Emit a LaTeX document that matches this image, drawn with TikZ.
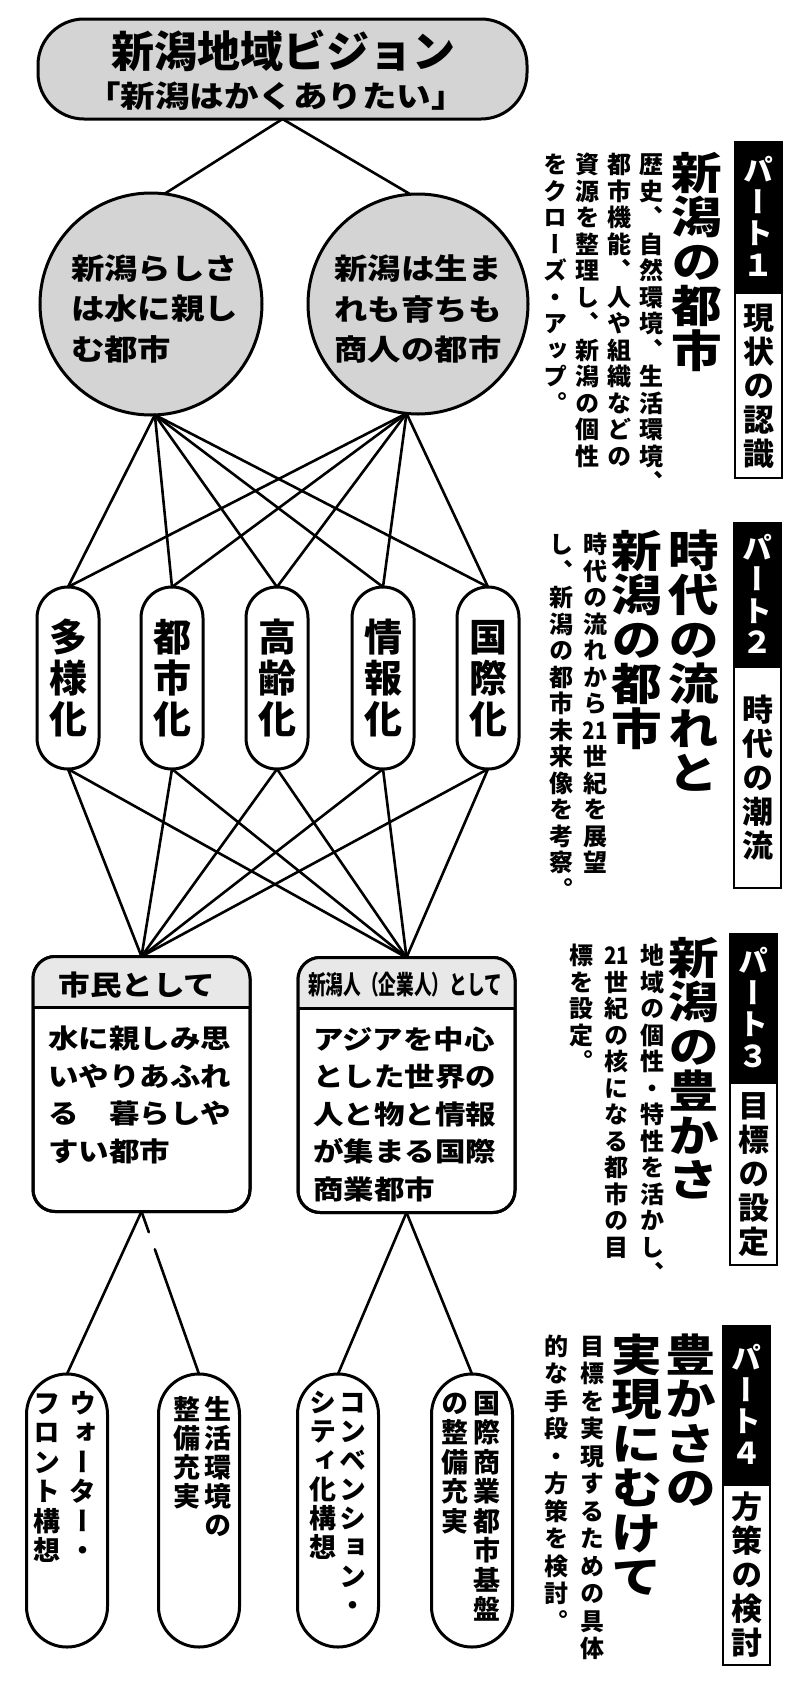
\documentclass[tikz,border=0pt]{standalone}
\usepackage{fontspec}
\usepackage{graphicx}
\usetikzlibrary{calc}
\setmainfont{Noto Sans CJK JP}
\newfontfamily\jpw{Noto Sans CJK JP}[FakeStretch=1.15]
\newfontfamily\tatefont{Noto Sans CJK JP}[RawFeature=+vert]
\newfontfamily\tatewfont{Noto Sans CJK JP}[RawFeature=+vert,FakeStretch=1.15]
\makeatletter
\newdimen\tpitch \newdimen\tcw \newdimen\tfs
\newbox\tpbox
\def\tate@end{\relax}
\def\tate@endm{\tate@end}
\def\tcol#1{\vtop{\offinterlineskip\tcol@loop#1\tate@end}}
\def\tcol@loop#1{\def\tcol@tmp{#1}\ifx\tcol@tmp\tate@endm\else
  \hbox to\tcw{\hss\vbox to\tpitch{\vss\hbox{\vrule height .88\tfs depth .12\tfs width 0pt\smash{#1}}\vss}\hss}%
  \expandafter\tcol@loop\fi}
\def\tpara#1{\setbox\tpbox\hbox{}\tpara@loop#1\tate@end\box\tpbox}
\def\tpara@loop#1{\def\tpara@tmp{#1}\ifx\tpara@tmp\tate@endm\else
  \setbox\tpbox\hbox{\tcol{#1}\unhbox\tpbox}%
  \expandafter\tpara@loop\fi}
\makeatother
\newcommand\vtext[4]{{\tfs=#1pt\fontsize{#1}{#1}\selectfont\tpitch=#2pt\tcw=#3pt\tpara{#4}}}
\begin{document}
\begin{tikzpicture}[x=1pt,y=-1pt,
  conn/.style={line width=2.6pt,line cap=round},
  shp/.style={draw,line width=3pt,inner sep=0pt,outer sep=0pt},
  gfill/.style={fill=black!17},
  ovA/.style={shp,fill=white,minimum width=62pt,minimum height=182pt,rounded corners=30.9pt,font=\tatefont\bfseries},
  ovB/.style={shp,fill=white,minimum width=81pt,minimum height=273pt,rounded corners=40.4pt},
  bx/.style={shp,fill=white,minimum width=217pt,minimum height=255pt,rounded corners=22pt},
  tg/.style={draw,line width=2.4pt,inner sep=0pt,outer sep=0pt,minimum width=47pt},
  tgb/.style={tg,fill=black,text=white,font=\tatefont\bfseries},
  tgw/.style={tg,fill=white,font=\tatefont\bfseries},
  vt/.style={inner sep=0pt,anchor=north,font=\tatefont\bfseries},
  vth/.style={inner sep=0pt,anchor=north,font=\tatewfont\bfseries},
]
\useasboundingbox (0,0) rectangle (804,1700);
% top
\node[shp,gfill,minimum width=489pt,minimum height=100pt,rounded corners=46pt] (top) at (282.5,69) {};
\node[inner sep=0pt,font=\bfseries\fontsize{43}{43}\selectfont] (topa) at (283,51) {新潟地域ビジョン};
\node[inner sep=0pt,font=\jpw\bfseries\fontsize{30}{30}\selectfont] (topb) at (276,96) {「新潟はかくありたい」};
% circles
\node[shp,gfill,circle,minimum size=222pt] (cL) at (151,304) {};
\node[shp,gfill,circle,minimum size=220pt] (cR) at (418,304) {};
\node[align=left,inner sep=0pt,font=\jpw\bfseries\fontsize{29}{40.5}\selectfont] (tL) at (154.5,309) {新潟らしさ\\は水に親し\\む都市};
\node[align=left,inner sep=0pt,font=\jpw\bfseries\fontsize{29}{40.5}\selectfont] (tR) at (418,309) {新潟は生ま\\れも育ちも\\商人の都市};
% five trends
\node[ovA] (o1) at (68,678) {\vtext{38}{41}{44}{{多様化}}};
\node[ovA] (o2) at (172,678) {\vtext{38}{41}{44}{{都市化}}};
\node[ovA] (o3) at (277,678) {\vtext{38}{41}{44}{{高齢化}}};
\node[ovA] (o4) at (383,678) {\vtext{38}{41}{44}{{情報化}}};
\node[ovA] (o5) at (488,678) {\vtext{38}{41}{44}{{国際化}}};
% goal boxes
\node[bx] (bL) at (141.5,1084) {};
\node[bx] (bR) at (406.5,1085) {};
\begin{scope}
\clip[rounded corners=22pt] (bL.south west) rectangle (bL.north east);
\fill[black!9] (bL.north west) rectangle ($(bL.north east)+(0,51)$);
\end{scope}
\begin{scope}
\clip[rounded corners=22pt] (bR.south west) rectangle (bR.north east);
\fill[black!9] (bR.north west) rectangle ($(bR.north east)+(0,51)$);
\end{scope}
\draw[line width=3pt,rounded corners=22pt] (bL.south west) rectangle (bL.north east);
\draw[line width=3pt,rounded corners=22pt] (bR.south west) rectangle (bR.north east);
\draw[line width=2.4pt] ($(bL.north west)+(0,51)$) -- ($(bL.north east)+(0,51)$);
\draw[line width=2.4pt] ($(bR.north west)+(0,51)$) -- ($(bR.north east)+(0,51)$);
\node[inner sep=0pt,font=\jpw\bfseries\fontsize{27.5}{27.5}\selectfont] (hL) at (137,985) {市民として};
\node[inner sep=0pt,font=\bfseries\fontsize{26}{26}\selectfont] (hR) at (405,985) {\scalebox{0.68}[1]{新潟人（企業人）として}};
\node[align=left,anchor=west,inner sep=0pt,font=\jpw\bfseries\fontsize{26.5}{37.5}\selectfont] (tbL) at (48,1095) {水に親しみ思\\いやりあふれ\\る　暮らしや\\すい都市};
\node[align=left,anchor=west,inner sep=0pt,font=\jpw\bfseries\fontsize{26.5}{37.5}\selectfont] (tbR) at (313,1114) {アジアを中心\\とした世界の\\人と物と情報\\が集まる国際\\商業都市};
% measures
\node[ovB] (q1) at (67,1510.5) {};
\node[ovB] (q2) at (199,1510.5) {};
\node[ovB] (q3) at (338,1510.5) {};
\node[ovB] (q4) at (472,1510.5) {};
\node[vt] (qt1) at (65,1388) {\vtext{27}{29.5}{36}{{ウォーター・}{フロント構想}}};
\node[vt] (qt2) at (202,1395) {\vtext{27}{29}{31}{{生活環境の}{整備充実}}};
\node[vt] (qt3) at (338,1388) {\vtext{27}{29}{30}{{コンベンション・}{シティ化構想}}};
\node[vt] (qt4) at (471,1388) {\vtext{27}{29.5}{32}{{国際商業都市基盤}{の整備充実}}};
% right panel
\node[tgb,minimum height=151pt] (p1a) at (758.5,217.5) {\vtext{30}{31.5}{40}{{パート１}}};
\node[tgw,minimum height=185pt] (p1b) at (758.5,385.5) {\vtext{31}{34}{40}{{現状の認識}}};
\node[vth] (h1) at (697,150) {\vtext{44}{44.5}{55}{{新潟の都市}}};
\node[vt] (d1) at (603.5,151) {\vtext{24}{26.5}{32}{{歴史、自然環境、生活環境、}{都市機能、人や組織などの}{資源を整理し、新潟の個性}{をクローズ・アップ。}}};
\node[tgb,minimum height=144pt] (p2a) at (757.5,595) {\vtext{30}{31.5}{40}{{パート２}}};
\node[tgw,minimum height=221pt] (p2b) at (757.5,777.5) {\vtext{31}{34}{40}{{時代の潮流}}};
\node[vth] (h2) at (665.5,528) {\vtext{44}{44.5}{57}{{時代の流れと}{新潟の都市}}};
\node[vt] (d2) at (578,531) {\vtext{24}{26.5}{34}{{時代の流れから{\scalebox{0.85}[1]{21}}世紀を展望}{し、新潟の都市未来像を考察。}}};
\node[tgb,minimum height=149pt] (p3a) at (753.5,1008.5) {\vtext{30}{31.5}{40}{{パート３}}};
\node[tgw,minimum height=182pt] (p3b) at (753.5,1174) {\vtext{31}{34}{40}{{目標の設定}}};
\node[vth] (h3) at (694,935) {\vtext{44}{44.5}{55}{{新潟の豊かさ}}};
\node[vt] (d3) at (616.5,942) {\vtext{24}{26.5}{35.5}{{地域の個性・特性を活かし、}{{\scalebox{0.85}[1]{21}}世紀の核になる都市の目}{標を設定。}}};
\node[tgb,minimum height=159pt] (p4a) at (746.5,1405.5) {\vtext{30}{31.5}{40}{{パート４}}};
\node[tgw,minimum height=180pt] (p4b) at (746.5,1575) {\vtext{31}{34}{40}{{方策の検討}}};
\node[vth] (h4) at (664,1332) {\vtext{44}{44.5}{54}{{豊かさの}{実現にむけて}}};
\node[vt] (d4) at (574,1332) {\vtext{24}{27.5}{36}{{目標を実現するための具体}{的な手段・方策を検討。}}};
% connectors
\draw[conn] (top.south) -- (cL.83);
\draw[conn] (top.south) -- (cR.94);
\foreach \i in {1,...,5} {
  \draw[conn] (cL.-88) -- (o\i.north);
  \draw[conn] (cR.-96) -- (o\i.north);
  \draw[conn] (o\i.south) -- (bL.north);
  \draw[conn] (o\i.south) -- (bR.north);
}
\draw[conn] (bL.south) -- (q1.north);
\draw[conn,dash pattern=on 22pt off 18pt on 300pt off 10pt] (bL.south) -- (q2.north);
\draw[conn] (bR.south) -- (q3.north);
\draw[conn] (bR.south) -- (q4.north);
\end{tikzpicture}
\end{document}
